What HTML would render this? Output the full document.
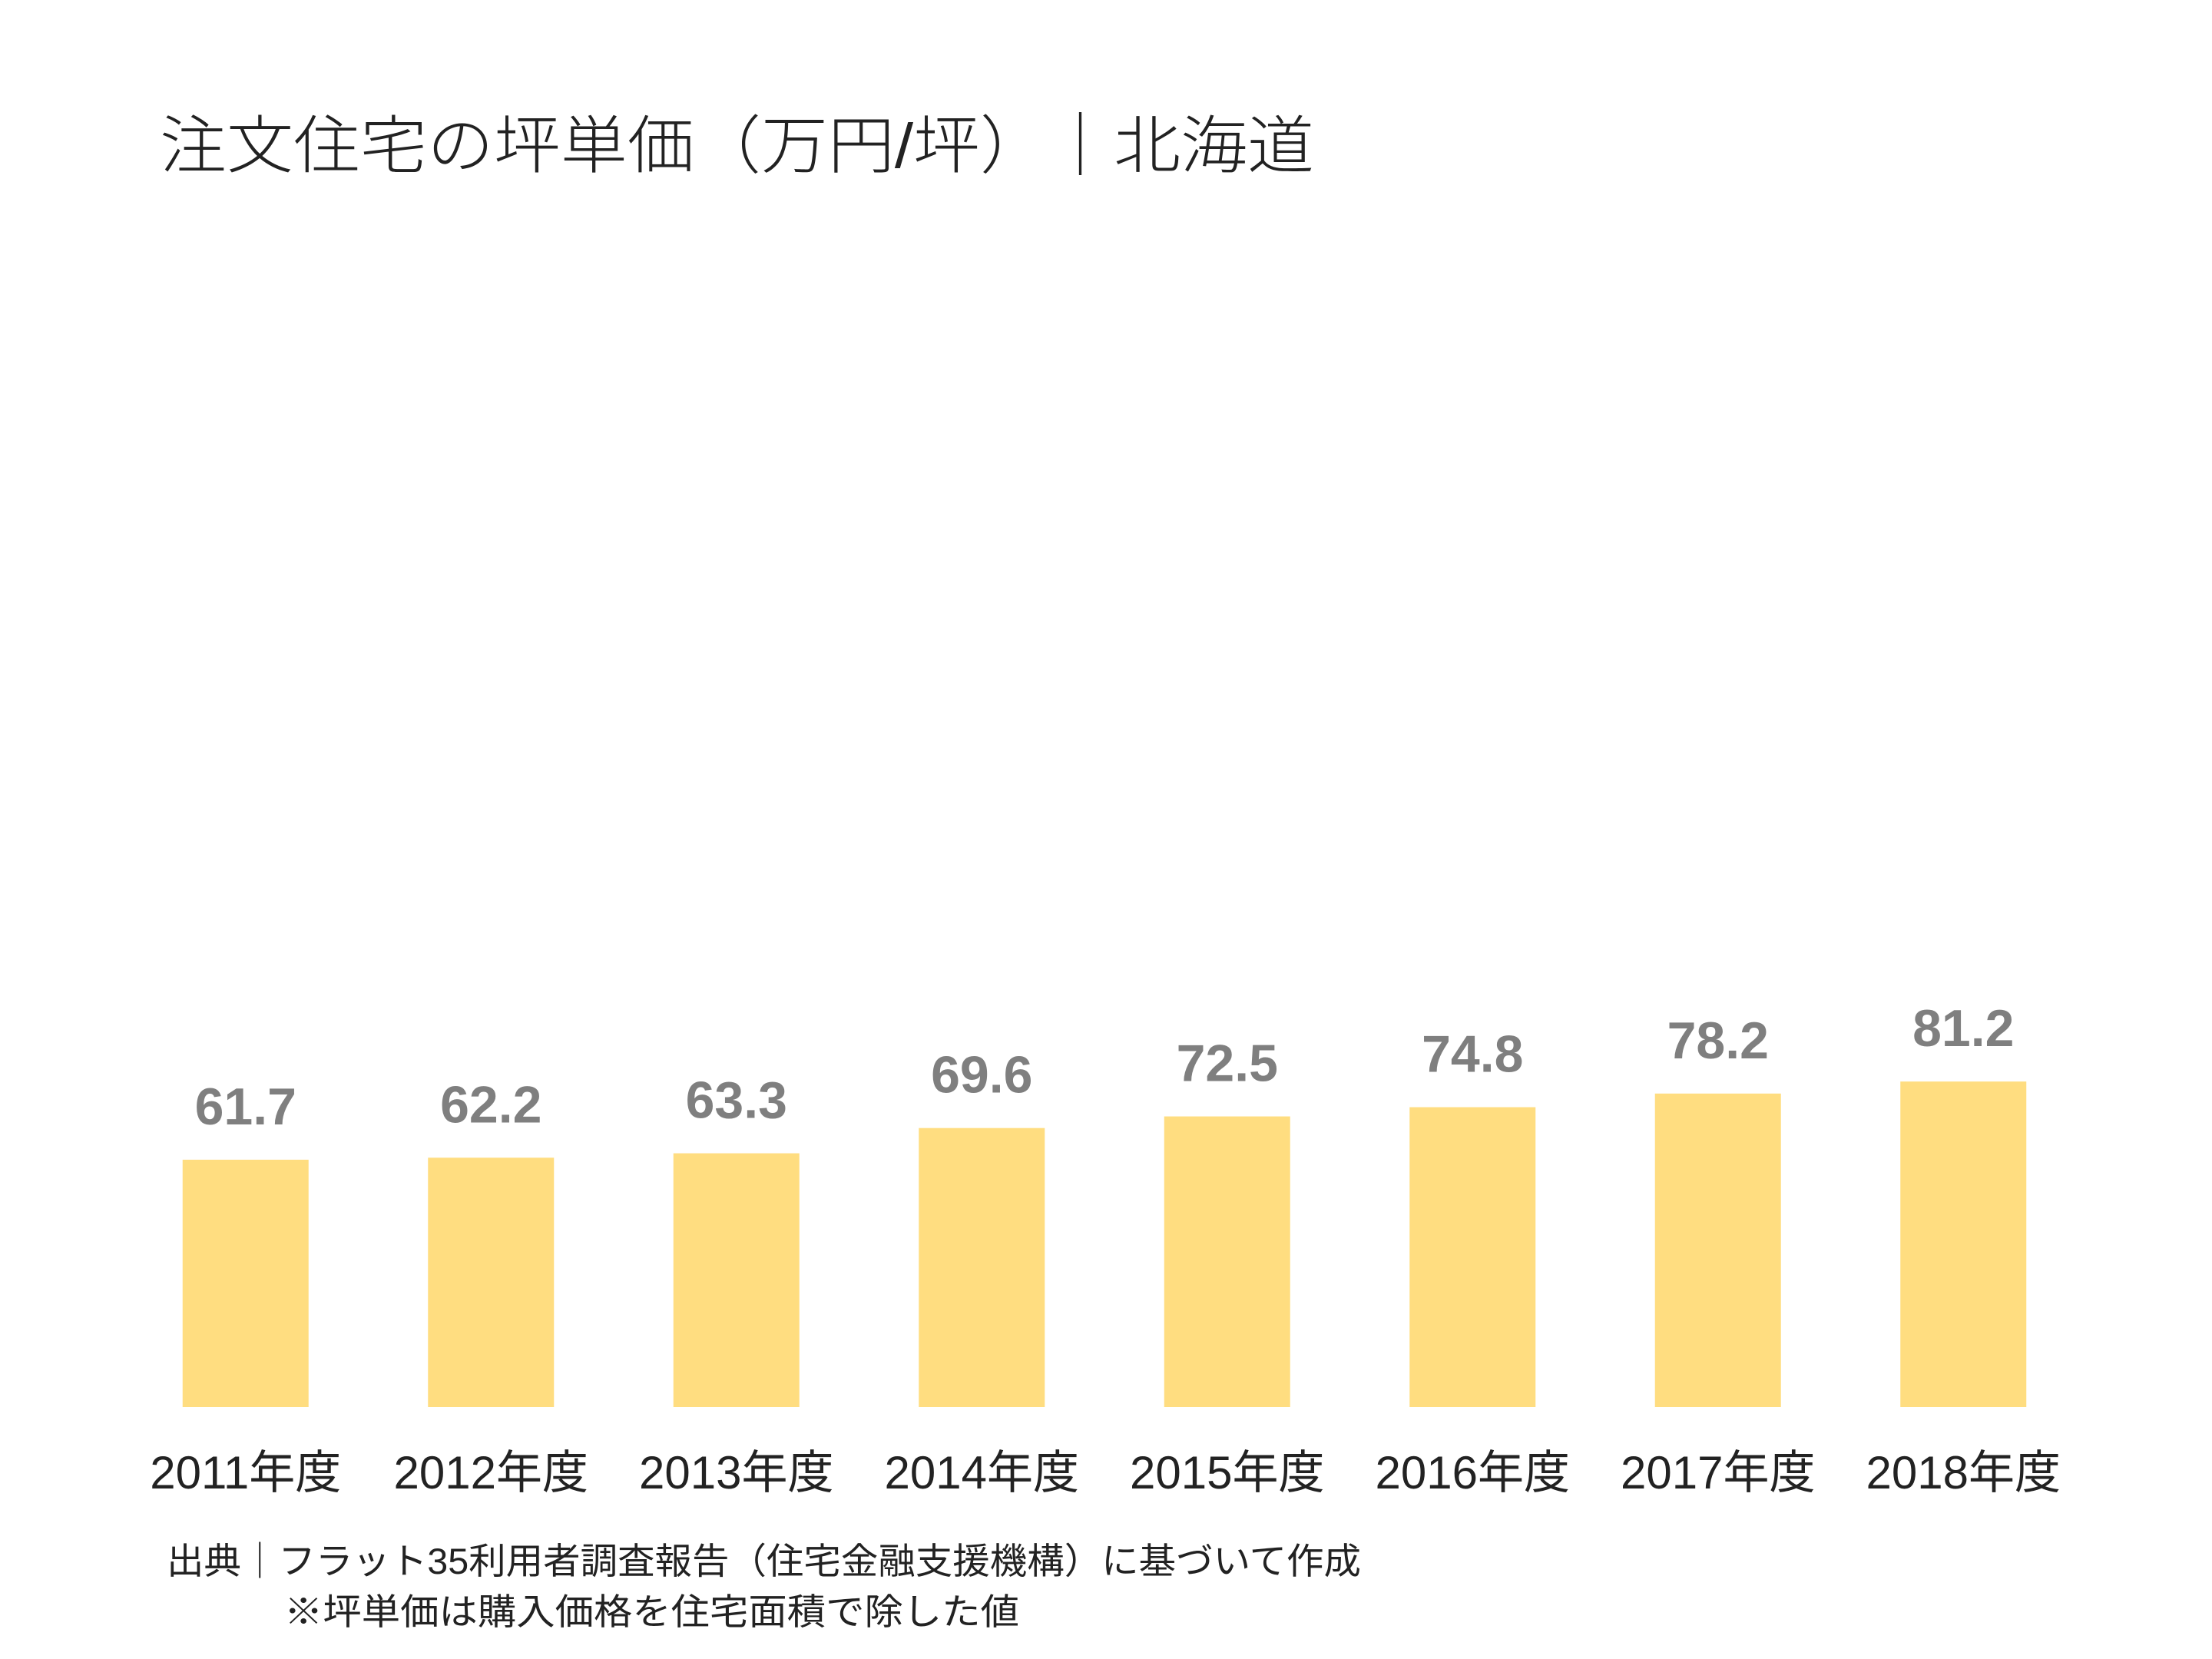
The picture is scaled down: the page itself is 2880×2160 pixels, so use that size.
<!DOCTYPE html>
<html><head><meta charset="utf-8"><style>
html,body{margin:0;padding:0;background:#fff;}
svg{display:block;}
</style></head><body>
<svg id="chart" width="2880" height="2160" viewBox="0 0 2880 2160" xmlns="http://www.w3.org/2000/svg">
<rect x="0" y="0" width="2880" height="2160" fill="#ffffff"/>
<text x="208" y="218" font-family="'Liberation Sans','Noto Sans CJK JP',sans-serif" font-weight="300" font-size="82" fill="#222" textLength="1503" lengthAdjust="spacingAndGlyphs">注文住宅の坪単価（万円/坪）｜北海道</text>
<g id="bars"></g>
<g id="values"></g>
<g id="xlabels"></g>
<text x="217" y="2049" font-family="'Liberation Sans','Noto Sans CJK JP',sans-serif" font-size="47" fill="#222" textLength="1555" lengthAdjust="spacingAndGlyphs">出典｜フラット35利用者調査報告（住宅金融支援機構）に基づいて作成</text>
<text x="370" y="2115" font-family="'Liberation Sans','Noto Sans CJK JP',sans-serif" font-size="47" fill="#222" textLength="957" lengthAdjust="spacingAndGlyphs">※坪単価は購入価格を住宅面積で除した値</text>
</svg>
<script>
const categories = ["2011年度","2012年度","2013年度","2014年度","2015年度","2016年度","2017年度","2018年度"];
const values = [61.7, 62.2, 63.3, 69.6, 72.5, 74.8, 78.2, 81.2];
const valueLabels = ["61.7","62.2","63.3","69.6","72.5","74.8","78.2","81.2"];

const NS = "http://www.w3.org/2000/svg";
const plotLeft = 160, plotRight = 2716, baseY = 1832, pxPerUnit = 5.22, barW = 164;
const step = (plotRight - plotLeft) / categories.length;
function xCenter(i){ return plotLeft + step * (i + 0.5); }
function yScale(v){ return baseY - v * pxPerUnit; }

const gb = document.getElementById('bars');
const gv = document.getElementById('values');
const gx = document.getElementById('xlabels');
categories.forEach((c, i) => {
  const cx = xCenter(i);
  const r = document.createElementNS(NS, 'rect');
  
  
  r.setAttribute('x', cx - barW/2);
  r.setAttribute('y', yScale(values[i]));
  r.setAttribute('width', barW);
  r.setAttribute('height', baseY - yScale(values[i]));
  r.setAttribute('fill', '#ffdd80');
  gb.appendChild(r);

  const t = document.createElementNS(NS, 'text');
  
  
  t.setAttribute('x', cx);
  t.setAttribute('y', yScale(values[i]) - 46);
  t.setAttribute('text-anchor', 'middle');
  t.setAttribute('font-family', "'Liberation Sans',sans-serif");
  t.setAttribute('font-weight', 'bold');
  t.setAttribute('font-size', '68');
  t.setAttribute('fill', '#7f7f7f');
  t.textContent = valueLabels[i];
  gv.appendChild(t);

  const l = document.createElementNS(NS, 'text');
  
  
  l.setAttribute('x', cx);
  l.setAttribute('y', 1938);
  l.setAttribute('text-anchor', 'middle');
  l.setAttribute('font-family', "'Liberation Sans','Noto Sans CJK JP',sans-serif");
  l.setAttribute('font-size', '60');
  l.setAttribute('fill', '#222');
  l.textContent = c;
  gx.appendChild(l);
});
</script>
</body></html>
